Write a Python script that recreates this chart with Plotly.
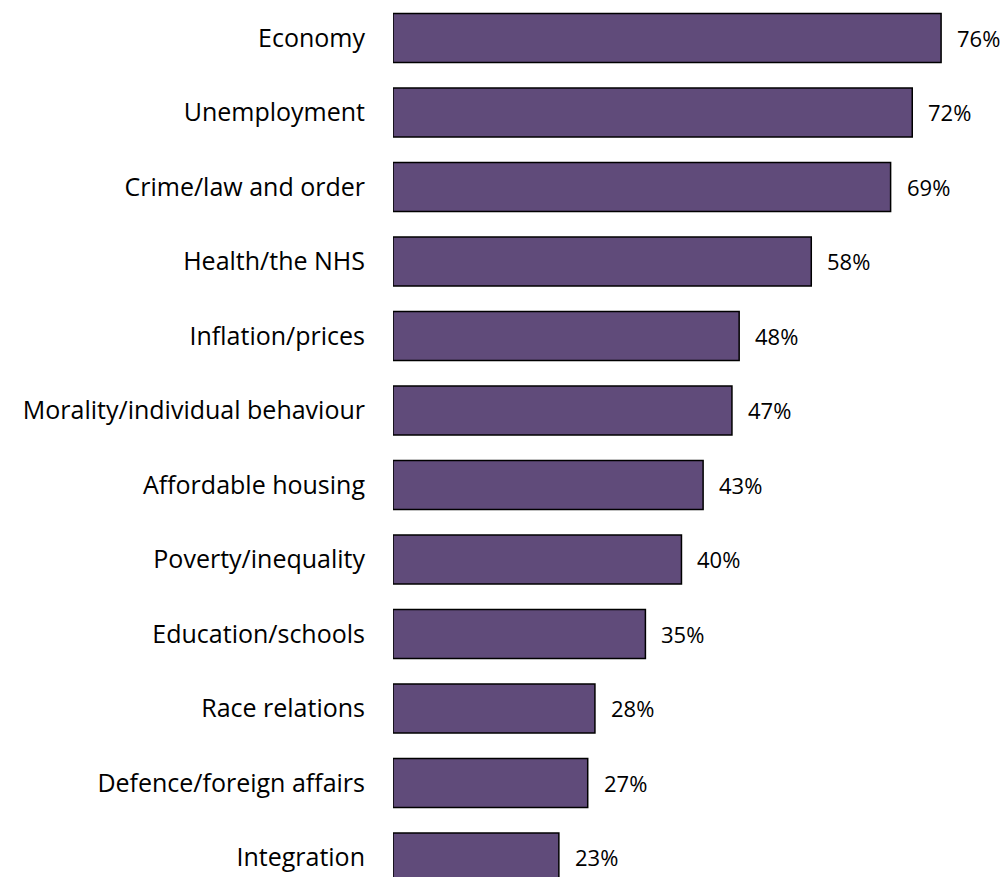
import plotly.graph_objects as go

categories = [
    "Economy", "Unemployment", "Crime/law and order", "Health/the NHS",
    "Inflation/prices", "Morality/individual behaviour", "Affordable housing",
    "Poverty/inequality", "Education/schools", "Race relations",
    "Defence/foreign affairs", "Integration",
]
values = [76, 72, 69, 58, 48, 47, 43, 40, 35, 28, 27, 23]
value_labels = [f"{v}%" for v in values]

FONT = "Open Sans"
BAR_COLOR = "#604B7A"

fig = go.Figure(
    go.Bar(
        x=values,
        y=categories,
        orientation="h",
        width=0.66,
        marker=dict(color=BAR_COLOR, line=dict(color="#000000", width=1.5)),
        hoverinfo="skip",
    )
)

# value labels sit a fixed distance to the right of each bar end
for cat, v, lab in zip(categories, values, value_labels):
    fig.add_annotation(
        x=v, y=cat, text=lab, showarrow=False,
        xanchor="left", yanchor="middle", xshift=14,
        font=dict(family=FONT, size=22, color="#000000"),
    )

fig.update_layout(
    width=1006, height=877,
    margin=dict(l=393, r=0, t=0, b=0),
    paper_bgcolor="white", plot_bgcolor="white",
    showlegend=False,
    xaxis=dict(range=[0, 85.0], visible=False),
    yaxis=dict(
        type="category",
        categoryorder="array", categoryarray=categories,
        range=[11.262, -0.51],
        showgrid=False, zeroline=False, showline=False,
        ticks="outside", ticklen=22, tickcolor="white",
        tickfont=dict(family=FONT, size=25, color="#000000"),
    ),
)

fig.write_html("out.html")
